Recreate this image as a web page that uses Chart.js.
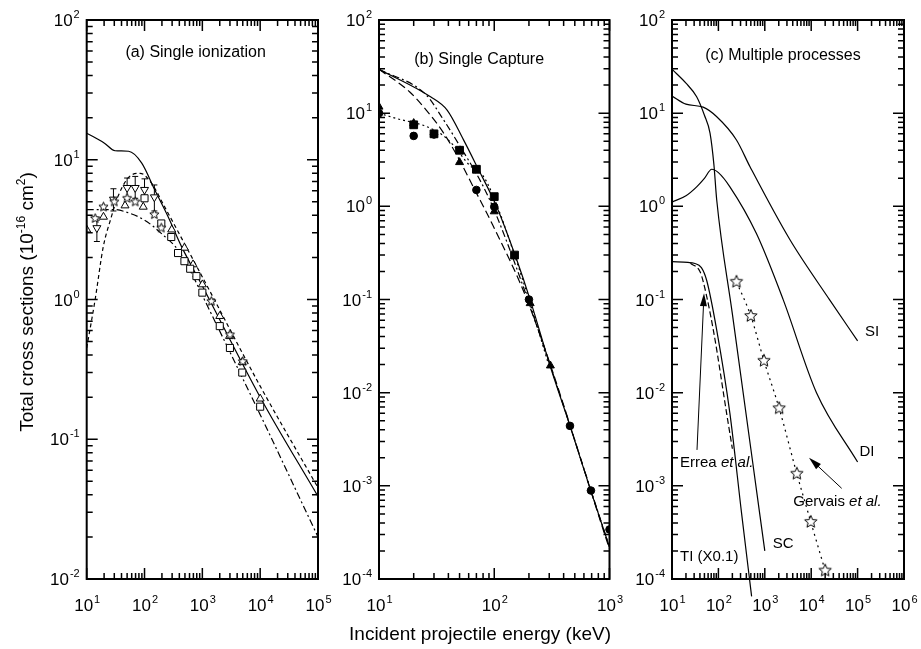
<!DOCTYPE html>
<html>
<head>
<meta charset="utf-8">
<script src="https://cdn.jsdelivr.net/npm/chart.js@4.4.1/dist/chart.umd.min.js"></script>
<style>
  body { margin: 0; background: #fff; }
  #wrap { position: relative; width: 921px; height: 649px; }
  canvas { position: absolute; left: 0; top: 0; }
</style>
</head>
<body>
<div id="wrap">
  <canvas id="chartA" width="921" height="649"></canvas>
  <canvas id="chartB" width="921" height="649"></canvas>
  <canvas id="chartC" width="921" height="649"></canvas>
</div>
<script>
const FONT = '"Liberation Sans", Arial, sans-serif';

// ---- (a) Single ionization ----
const aSolidE = [10, 20, 31, 53, 89, 150, 257, 435, 1000, 10000, 100000];
const aSolidS = [15.5, 13.2, 11.6, 11.5, 9.5, 6.1, 3.9, 2.4, 1.25, 0.2, 0.039];
const aDashE = [10, 14, 19.4, 25.7, 35.6, 60, 84, 132, 223, 390, 1000, 10000, 100000];
const aDashS = [0.45, 1.0, 2.4, 3.7, 5.6, 7.8, 8.0, 6.8, 4.6, 3.0, 1.45, 0.24, 0.045];
const aDashDotE = [10, 30, 50, 100, 190, 400, 690, 1000, 10000, 100000];
const aDashDotS = [4.4, 4.4, 4.2, 3.7, 3.0, 2.2, 1.47, 1.07, 0.15, 0.02];
const aUpE = [10, 19.5, 46, 95, 295, 490, 690, 1000, 2000, 2950, 4900, 10000];
const aUpS = [3.16, 3.9, 4.7, 4.6, 3.16, 2.34, 1.78, 1.28, 0.76, 0.547, 0.356, 0.195];
const aSqE = [100, 195, 290, 380, 490, 616, 790, 1000, 2000, 3000, 4900, 10000];
const aSqS = [5.3, 3.5, 2.8, 2.15, 1.88, 1.66, 1.47, 1.12, 0.645, 0.45, 0.30, 0.171];
const aDnE = [15, 29, 50, 69, 100, 148];
const aDnS = [3.25, 5.2, 6.3, 6.3, 6.1, 5.4];
const aDnLo = [2.6, 4.3, 5.2, 5.3, 5.1, 4.3];
const aDnHi = [3.7, 6.2, 7.4, 7.6, 7.3, 6.6];
const aStE = [14, 19.5, 30, 50, 69, 148, 195, 1430, 3000, 5000];
const aStS = [3.8, 4.6, 5.0, 5.3, 5.0, 4.05, 3.25, 0.97, 0.56, 0.36];

// ---- (b) Single Capture ----
const bSolidE = [10, 28, 39, 54, 71, 105, 157, 205, 307, 457, 683, 1000];
const bSolidS = [29.6, 15, 10.8, 5.2, 2.66, 0.99, 0.265, 0.099, 0.019, 0.0043, 0.00091, 0.00022];
const bDashE = [10, 18.4, 25.7, 35.8, 47, 69, 97, 200, 1000];
const bDashS = [29.6, 17, 10.8, 6.3, 3.6, 1.44, 0.63, 0.088, 0.00021];
const bDashDotE = [10, 25.7, 35.6, 50, 79, 104, 200, 1000];
const bDashDotS = [29.6, 15.7, 8.8, 4.5, 1.7, 0.81, 0.092, 0.00022];
const bDotE = [10, 14, 25.7, 35.8, 44, 61, 79, 97, 150, 200, 300];
const bDotS = [10, 8.8, 7.2, 5.8, 4.55, 2.76, 2.17, 1.33, 0.3, 0.1, 0.019];
const bTriE = [10, 20, 50, 100, 205, 307];
const bTriS = [11.7, 7.8, 2.97, 0.88, 0.091, 0.0195];
const bCircE = [10, 20, 30, 70, 100, 200, 454, 690, 1000];
const bCircS = [10, 5.7, 5.9, 1.5, 0.99, 0.1, 0.0044, 0.00089, 0.00034];
const bSqE = [20, 30, 50, 70, 100, 150];
const bSqS = [7.5, 6.0, 4.0, 2.5, 1.27, 0.30];

// ---- (c) Multiple processes ----
const cSIE = [10, 20, 47, 91, 245, 480, 3460, 25000, 100000];
const cSIS = [15.3, 12.5, 11.6, 9.2, 5.15, 2.66, 0.44, 0.099, 0.036];
const cDIE = [10, 20, 34, 50, 72, 100, 177, 660, 2500, 13000, 100000];
const cDIS = [1.11, 1.3, 1.62, 2.0, 2.5, 2.3, 1.62, 0.51, 0.099, 0.01, 0.0018];
const cSCE = [10, 20, 34, 50, 66, 80, 92, 200, 500, 1000];
const cSCS = [29.6, 21, 15, 9.5, 6.1, 2.8, 1.17, 0.07, 0.0025, 0.0002];
const cTIE = [10, 22, 30, 43, 56, 92, 177, 317, 520];
const cTIS = [0.255, 0.25, 0.245, 0.22, 0.16, 0.047, 0.006, 0.0005, 0.000065];
const cErreaE = [25, 40, 48, 79, 152, 200];
const cErreaS = [0.245, 0.2, 0.15, 0.045, 0.0058, 0.0025];
const cGervE = [245, 500, 960, 2040, 4900, 9800, 20000];
const cGervS = [0.155, 0.0665, 0.022, 0.0068, 0.00135, 0.00041, 0.000123];

function pts(xs, ys) {
  return xs.map((x, i) => ({ x: x, y: ys[i] }));
}

function makeStar(R) {
  const c = document.createElement('canvas');
  const s = Math.ceil(2 * R + 3);
  c.width = s; c.height = s;
  const g = c.getContext('2d');
  g.beginPath();
  for (let i = 0; i < 10; i++) {
    const r = i % 2 === 0 ? R : R * 0.45;
    const ang = -Math.PI / 2 + i * Math.PI / 5;
    const px = s / 2 + r * Math.cos(ang), py = s / 2 + r * Math.sin(ang);
    if (i === 0) g.moveTo(px, py); else g.lineTo(px, py);
  }
  g.closePath();
  g.fillStyle = '#fff'; g.fill();
  g.strokeStyle = '#000'; g.lineWidth = 1; g.stroke();
  return c;
}
const starSmall = makeStar(4.8);
const starBig = makeStar(6.5);

function line(xs, ys, dash, extra) {
  return Object.assign({
    data: pts(xs, ys), borderColor: '#000', borderWidth: 1.2, borderDash: dash,
    pointRadius: 0, fill: false, cubicInterpolationMode: 'monotone'
  }, extra || {});
}
function marks(xs, ys, style, r, fillColor, extra) {
  return Object.assign({
    data: pts(xs, ys), showLine: false, pointStyle: style, pointRadius: r,
    pointBackgroundColor: fillColor, pointBorderColor: '#000', pointBorderWidth: 1
  }, extra || {});
}

function drawPow(ctx, exp, x, y, align) {
  ctx.font = '17px ' + FONT;
  const w1 = ctx.measureText('10').width;
  ctx.font = '11px ' + FONT;
  const w2 = ctx.measureText(exp).width;
  const x0 = align === 'right' ? x - w1 - w2 - 1 : x - (w1 + w2) / 2;
  ctx.textAlign = 'left';
  ctx.textBaseline = 'alphabetic';
  ctx.font = '17px ' + FONT;
  ctx.fillText('10', x0, y);
  ctx.font = '11px ' + FONT;
  ctx.fillText(exp, x0 + w1 + 1, y - 8);
}

function drawRich(ctx, parts, cx, y, size, supSize) {
  let w = 0;
  parts.forEach(p => {
    ctx.font = (p.it ? 'italic ' : '') + (p.sup ? supSize : size) + 'px ' + FONT;
    p.w = ctx.measureText(p.t).width;
    w += p.w;
  });
  let x = cx === null ? 0 : cx - w / 2;
  parts.forEach(p => {
    ctx.font = (p.it ? 'italic ' : '') + (p.sup ? supSize : size) + 'px ' + FONT;
    ctx.fillText(p.t, x, p.sup ? y - 8 : y);
    x += p.w;
  });
}

const framePlugin = {
  id: 'frame',
  afterDraw(chart, args, o) {
    const ctx = chart.ctx, a = chart.chartArea;
    const x = chart.scales.x, y = chart.scales.y;
    ctx.save();
    ctx.strokeStyle = '#000';
    ctx.fillStyle = '#000';
    ctx.lineWidth = 1.5;
    ctx.beginPath();
    for (let e = o.xd[0]; e <= o.xd[1]; e++) {
      for (let m = 1; m < 10; m++) {
        if (e === o.xd[1] && m > 1) break;
        const px = x.getPixelForValue(Number(m + 'e' + e));
        const len = m === 1 ? 11 : 6;
        ctx.moveTo(px, a.bottom); ctx.lineTo(px, a.bottom - len);
        ctx.moveTo(px, a.top); ctx.lineTo(px, a.top + len);
      }
    }
    for (let e = o.yd[0]; e <= o.yd[1]; e++) {
      for (let m = 1; m < 10; m++) {
        if (e === o.yd[1] && m > 1) break;
        const py = y.getPixelForValue(Number(m + 'e' + e));
        const len = m === 1 ? 11 : 6;
        ctx.moveTo(a.left, py); ctx.lineTo(a.left + len, py);
        ctx.moveTo(a.right, py); ctx.lineTo(a.right - len, py);
      }
    }
    ctx.stroke();
    ctx.lineWidth = 2;
    ctx.strokeRect(a.left, a.top, a.right - a.left, a.bottom - a.top);

    for (let e = o.xd[0]; e <= o.xd[1]; e++) {
      drawPow(ctx, String(e), x.getPixelForValue(Number('1e' + e)), a.bottom + 32, 'center');
    }
    for (let e = o.yd[0]; e <= o.yd[1]; e++) {
      drawPow(ctx, String(e), a.left - 7, y.getPixelForValue(Number('1e' + e)) + 6, 'right');
    }

    // panel title
    ctx.font = '16px ' + FONT;
    ctx.textAlign = 'center';
    ctx.textBaseline = 'middle';
    ctx.fillText(o.title, x.getPixelForValue(o.titleAt[0]), y.getPixelForValue(o.titleAt[1]));
    ctx.restore();
  }
};

const errPlugin = {
  id: 'errbars',
  beforeDatasetsDraw(chart, args, o) {
    if (!o.lo) return;
    const ctx = chart.ctx, x = chart.scales.x, y = chart.scales.y;
    ctx.save();
    ctx.strokeStyle = '#000';
    ctx.lineWidth = 1;
    ctx.beginPath();
    o.e.forEach((ev, i) => {
      const px = x.getPixelForValue(ev);
      const p1 = y.getPixelForValue(o.lo[i]), p2 = y.getPixelForValue(o.hi[i]);
      ctx.moveTo(px, p1); ctx.lineTo(px, p2);
      ctx.moveTo(px - 3, p1); ctx.lineTo(px + 3, p1);
      ctx.moveTo(px - 3, p2); ctx.lineTo(px + 3, p2);
    });
    ctx.stroke();
    ctx.restore();
  }
};

const axisTitlePlugin = {
  id: 'axisTitles',
  afterDraw(chart) {
    const ctx = chart.ctx;
    ctx.save();
    ctx.fillStyle = '#000';
    ctx.textAlign = 'left';
    ctx.textBaseline = 'alphabetic';
    drawRich(ctx, [{ t: 'Incident projectile energy (keV)' }], 480, 640, 19, 12);
    ctx.translate(26, 302);
    ctx.rotate(-Math.PI / 2);
    drawRich(ctx, [
      { t: 'Total cross sections (10' }, { t: '-16', sup: true },
      { t: ' cm' }, { t: '2', sup: true }, { t: ')' }
    ], 0, 7, 19, 12);
    ctx.restore();
  }
};

// annotation positions for panel (c), in data units
const cLabels = [
  { parts: [{ t: 'SI' }], at: [145000, 0.045] },
  { parts: [{ t: 'DI' }], at: [110000, 0.00233] },
  { parts: [{ t: 'SC' }], at: [1480, 0.00024] },
  { parts: [{ t: 'TI (X0.1)' }], at: [14.9, 0.000174] },
  { parts: [{ t: 'Errea ' }, { t: 'et al.', it: true }], at: [14.9, 0.00178] },
  { parts: [{ t: 'Gervais ' }, { t: 'et al.', it: true }], at: [4100, 0.000676] }
];
const cArrows = [
  { from: [34.6, 0.00243], to: [49, 0.117] },
  { from: [45400, 0.00094], to: [8970, 0.002] }
];

const annoPlugin = {
  id: 'anno',
  afterDatasetsDraw(chart, args, o) {
    if (!o.labels) return;
    const ctx = chart.ctx, x = chart.scales.x, y = chart.scales.y;
    ctx.save();
    ctx.fillStyle = '#000';
    ctx.strokeStyle = '#000';
    ctx.textAlign = 'left';
    ctx.textBaseline = 'middle';
    o.labels.forEach(l => {
      ctx.save();
      ctx.translate(x.getPixelForValue(l.at[0]), y.getPixelForValue(l.at[1]));
      drawRich(ctx, l.parts, null, 0, 15, 10);
      ctx.restore();
    });
    ctx.lineWidth = 1;
    o.arrows.forEach(ar => {
      const x1 = x.getPixelForValue(ar.from[0]), y1 = y.getPixelForValue(ar.from[1]);
      const x2 = x.getPixelForValue(ar.to[0]), y2 = y.getPixelForValue(ar.to[1]);
      const ang = Math.atan2(y2 - y1, x2 - x1);
      ctx.beginPath();
      ctx.moveTo(x1, y1);
      ctx.lineTo(x2 - 10 * Math.cos(ang), y2 - 10 * Math.sin(ang));
      ctx.stroke();
      ctx.beginPath();
      ctx.moveTo(x2, y2);
      ctx.lineTo(x2 - 13 * Math.cos(ang) + 3.5 * Math.sin(ang), y2 - 13 * Math.sin(ang) - 3.5 * Math.cos(ang));
      ctx.lineTo(x2 - 13 * Math.cos(ang) - 3.5 * Math.sin(ang), y2 - 13 * Math.sin(ang) + 3.5 * Math.cos(ang));
      ctx.closePath();
      ctx.fill();
    });
    ctx.restore();
  }
};

function options(pad, xr, yr, frame, extraPlugins) {
  return {
    responsive: false,
    animation: false,
    layout: { padding: pad },
    plugins: Object.assign({
      legend: { display: false },
      tooltip: { enabled: false },
      frame: frame
    }, extraPlugins || {}),
    scales: {
      x: { type: 'logarithmic', min: xr[0], max: xr[1], display: false },
      y: { type: 'logarithmic', min: yr[0], max: yr[1], display: false }
    }
  };
}

// (a)
new Chart(document.getElementById('chartA'), {
  type: 'line',
  data: {
    datasets: [
      marks(aStE, aStS, starSmall, 4, '#fff'),
      marks(aDnE, aDnS, 'triangle', 4.6, '#fff', { pointRotation: 180 }),
      marks(aSqE, aSqS, 'rect', 5, '#fff'),
      marks(aUpE, aUpS, 'triangle', 4.6, '#fff'),
      line(aSolidE, aSolidS, []),
      line(aDashE, aDashS, [4, 3]),
      line(aDashDotE, aDashDotS, [7, 3, 2, 3])
    ]
  },
  options: options({ left: 86.7, right: 603, top: 20, bottom: 70 }, [10, 100000], [0.01, 100],
    { xd: [1, 5], yd: [-2, 2], title: '(a) Single ionization', titleAt: [766, 58] },
    { errbars: { e: aDnE, lo: aDnLo, hi: aDnHi } }),
  plugins: [framePlugin, errPlugin, axisTitlePlugin]
});

// (b)
new Chart(document.getElementById('chartB'), {
  type: 'line',
  data: {
    datasets: [
      marks(bSqE, bSqS, 'rect', 5.5, '#000'),
      marks(bCircE, bCircS, 'circle', 3.8, '#000'),
      marks(bTriE, bTriS, 'triangle', 4.6, '#000'),
      line(bSolidE, bSolidS, []),
      line(bDashE, bDashS, [8, 4]),
      line(bDashDotE, bDashDotS, [7, 3, 2, 3]),
      line(bDotE, bDotS, [2, 3])
    ]
  },
  options: options({ left: 379, right: 311.5, top: 20, bottom: 70 }, [10, 1000], [0.0001, 100],
    { xd: [1, 3], yd: [-4, 2], title: '(b) Single Capture', titleAt: [74, 38] }),
  plugins: [framePlugin]
});

// (c)
new Chart(document.getElementById('chartC'), {
  type: 'line',
  data: {
    datasets: [
      marks(cGervE, cGervS, starBig, 6, '#fff'),
      line(cGervE, cGervS, [2, 4]),
      line(cSIE, cSIS, []),
      line(cDIE, cDIS, []),
      line(cSCE, cSCS, []),
      line(cTIE, cTIS, [], { clip: false }),
      line(cErreaE, cErreaS, [6, 3])
    ]
  },
  options: options({ left: 672, right: 17, top: 20, bottom: 70 }, [10, 1000000], [0.0001, 100],
    { xd: [1, 6], yd: [-4, 2], title: '(c) Multiple processes', titleAt: [2460, 42] },
    { anno: { labels: cLabels, arrows: cArrows } }),
  plugins: [framePlugin, annoPlugin]
});
</script>
</body>
</html>
